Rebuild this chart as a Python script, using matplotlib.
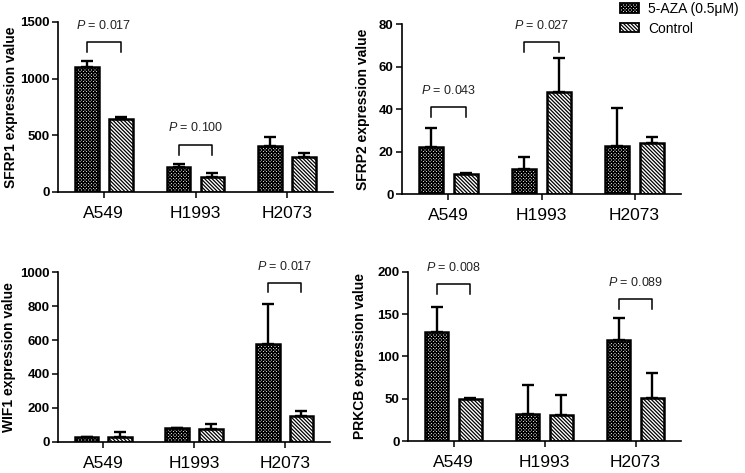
import numpy as np
import matplotlib
matplotlib.use('Agg')
import matplotlib.pyplot as plt
from matplotlib.patches import Patch

plt.rcParams['font.family'] = ['Liberation Sans', 'DejaVu Sans']
plt.rcParams['mathtext.fontset'] = 'custom'
plt.rcParams['mathtext.it'] = 'Liberation Sans:italic'
plt.rcParams['mathtext.rm'] = 'Liberation Sans'
plt.rcParams['hatch.linewidth'] = 0.9

# data
cells = ['A549', 'H1993', 'H2073']
legend_labels = ['5-AZA (0.5μM)', 'Control']

sfrp1_aza = [1100, 223, 410]
sfrp1_aza_err = [60, 24, 78]
sfrp1_ctrl = [640, 135, 312]
sfrp1_ctrl_err = [25, 35, 35]

sfrp2_aza = [22.4, 11.8, 22.7]
sfrp2_aza_err = [8.9, 5.6, 18.1]
sfrp2_ctrl = [9.4, 48.1, 24.0]
sfrp2_ctrl_err = [0.8, 16.2, 2.8]

wif1_aza = [26, 79, 577]
wif1_aza_err = [2, 4, 234]
wif1_ctrl = [26, 73, 154]
wif1_ctrl_err = [29, 30, 27]

prkcb_aza = [129, 31.9, 119.3]
prkcb_aza_err = [29.6, 33.9, 25.7]
prkcb_ctrl = [49.2, 30.7, 50.4]
prkcb_ctrl_err = [2, 24, 29.6]

# p-value brackets: (group, bracket top, leg bottom, text y, p)
sfrp1_p = [(0, 1326, 1238, 1470, '0.017'), (1, 415, 326, 565, '0.100')]
sfrp2_p = [(0, 40.9, 36.2, 48.8, '0.043'), (1, 71.8, 67.1, 79.6, '0.027')]
wif1_p = [(2, 939, 882, 1034, '0.017')]
prkcb_p = [(0, 185, 173.6, 205, '0.008'), (2, 167.7, 156, 187.5, '0.089')]

W, H = 745, 473
fig = plt.figure(figsize=(W / 100, H / 100), dpi=100)

HATCH_AZA = 'xxxxxxxxxx'
HATCH_CTRL = '\\' * 9

panels = [
    # pixel box (left, right, top, bottom), data..., ylabel, ticks, label x
    ((58, 333, 22, 192), sfrp1_aza, sfrp1_aza_err, sfrp1_ctrl, sfrp1_ctrl_err,
     sfrp1_p, 'SFRP1 expression value', [0, 500, 1000, 1500], 18),
    ((402, 681, 24.3, 194.3), sfrp2_aza, sfrp2_aza_err, sfrp2_ctrl, sfrp2_ctrl_err,
     sfrp2_p, 'SFRP2 expression value', [0, 20, 40, 60, 80], 370),
    ((58, 330, 272.3, 441.7), wif1_aza, wif1_aza_err, wif1_ctrl, wif1_ctrl_err,
     wif1_p, 'WIF1 expression value', [0, 200, 400, 600, 800, 1000], 16),
    ((408, 681, 271.7, 441), prkcb_aza, prkcb_aza_err, prkcb_ctrl, prkcb_ctrl_err,
     prkcb_p, 'PRKCB expression value', [0, 50, 100, 150, 200], 367),
]

x = np.arange(len(cells))
off = 0.185
bw = 0.26

for box, aza, aza_err, ctrl, ctrl_err, pvals, ylab, yticks, labx in panels:
    l, r, t, b = box
    ax = fig.add_axes([l / W, 1 - b / H, (r - l) / W, (b - t) / H])

    ax.bar(x - off, aza, bw, facecolor='white', edgecolor='black',
           hatch=HATCH_AZA, linewidth=1.8, zorder=2)
    ax.bar(x + off, ctrl, bw, facecolor='white', edgecolor='black',
           hatch=HATCH_CTRL, linewidth=1.8, zorder=2)
    ax.errorbar(x - off, aza, yerr=[np.zeros(3), aza_err], fmt='none',
                ecolor='black', elinewidth=1.7, capsize=4.5, capthick=1.7, zorder=3)
    ax.errorbar(x + off, ctrl, yerr=[np.zeros(3), ctrl_err], fmt='none',
                ecolor='black', elinewidth=1.7, capsize=4.5, capthick=1.7, zorder=3)

    for g, top, leg, ty, p in pvals:
        ax.plot([g - off, g - off, g + off, g + off], [leg, top, top, leg],
                color='black', linewidth=1.1, clip_on=False)
        ax.text(g, ty, r'$\mathit{P}$ = ' + p, ha='center', va='center',
                fontsize=9, color='#222222', clip_on=False)

    ax.set_xlim(-0.5, 2.5)
    ax.set_ylim(yticks[0], yticks[-1])
    ax.set_xticks(x)
    ax.set_xticklabels(cells, fontsize=12.5)
    ax.set_yticks(yticks)
    ax.set_yticklabels([str(v) for v in yticks], fontsize=9.5, fontweight='bold')
    ax.tick_params(axis='x', length=4, width=1.1, pad=6)
    ax.tick_params(axis='y', length=4, width=1.1, pad=2)
    ax.set_ylabel(ylab, fontsize=10, fontweight='bold')
    ax.yaxis.set_label_coords((labx - l) / (r - l), 0.5)
    for s in ['top', 'right']:
        ax.spines[s].set_visible(False)
    for s in ['left', 'bottom']:
        ax.spines[s].set_linewidth(1.2)

handles = [Patch(facecolor='white', edgecolor='black', hatch=HATCH_AZA, linewidth=1.3),
           Patch(facecolor='white', edgecolor='black', hatch=HATCH_CTRL, linewidth=1.3)]
fig.legend(handles, legend_labels, loc='upper left', bbox_to_anchor=(620 / W, 1 - 2 / H),
           frameon=False, fontsize=10, handlelength=1.4, handleheight=0.65,
           handletextpad=0.6, labelspacing=0.4, borderpad=0, borderaxespad=0)

fig.savefig('out.png', dpi=100)
